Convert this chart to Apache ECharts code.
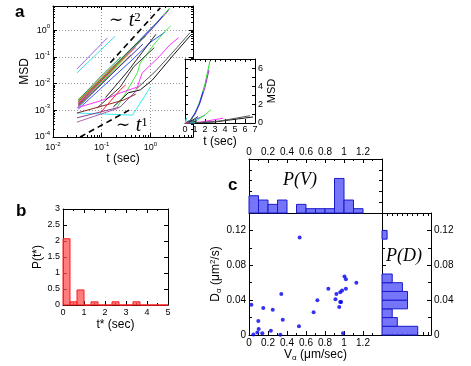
<!DOCTYPE html>
<html>
<head>
<meta charset="utf-8">
<script src="https://cdn.jsdelivr.net/npm/echarts@6/dist/echarts.min.js"></script>
<style>
  html, body { margin: 0; padding: 0; background: #fff; }
  #chart { width: 471px; height: 366px; }
</style>
</head>
<body>
<div id="chart"></div>
<script>
// ---- panel a: MSD(t) of single trajectories, [t (sec), MSD] ----
const msdTracks = [
  [[0.033, 1.4e-3], [0.1, 0.011], [0.3, 0.09], [0.6, 0.38], [1.0, 1.05], [1.5, 2.4], [2.0, 4.3], [2.5, 6.8]],
  [[0.033, 1.6e-3], [0.1, 0.013], [0.3, 0.1], [0.6, 0.36], [1.0, 0.95], [1.5, 2.2], [2.0, 3.9], [2.4, 5.8]],
  [[0.033, 1.8e-3], [0.1, 0.014], [0.3, 0.11], [0.6, 0.42], [1.0, 1.1], [1.4, 2.0], [1.8, 3.4]],
  [[0.033, 1.1e-3], [0.1, 7e-3], [0.4, 0.07], [1.0, 0.35], [2.0, 0.85]],
  [[0.033, 2.6e-3], [0.15, 0.03], [0.35, 0.117]],
  [[0.033, 2.3e-3], [0.12, 0.025], [0.45, 0.2]],
  [[0.033, 2.0e-3], [0.1, 0.016], [0.5, 0.3], [0.8, 0.6]],
  [[0.033, 2.2e-3], [0.12, 0.022], [0.6, 0.35]],
  [[0.033, 1.9e-3], [0.15, 0.03], [0.5, 0.22]],
  [[0.033, 2.4e-3], [0.1, 0.02], [0.25, 0.1]],
  [[0.033, 1.5e-3], [0.1, 0.01], [0.4, 0.12]],
  [[0.033, 1.7e-3], [0.2, 0.045]],
  [[0.033, 1.3e-3], [0.15, 0.02], [0.7, 0.3]],
  [[0.033, 2.1e-3], [0.09, 0.012], [0.3, 0.1]],
  [[0.12, 3e-3], [0.35, 0.03], [1.3, 0.7]],
  [[0.21, 1.33e-3], [0.28, 3.2e-3], [0.54, 0.025], [0.62, 0.059], [1.2, 0.3], [2.0, 0.9], [2.6, 1.45]],
  [[0.031, 1.23e-3], [0.105, 2.4e-3], [0.24, 4.5e-3], [0.54, 7.4e-3], [0.68, 0.025], [1.5, 0.1], [2.5, 0.28], [3.8, 0.52]],
  [[0.173, 1.33e-3], [0.35, 4.5e-3], [0.62, 5.8e-3], [1.1, 0.0136], [3.0, 0.12], [6.8, 0.66]],
  [[0.081, 1.23e-3], [0.24, 7.4e-3], [0.45, 0.042], [1.2, 0.22]],
  [[0.5, 6e-3], [1.3, 0.03], [3.5, 0.22], [6.5, 0.8]],
  [[0.031, 7.9e-4], [0.43, 6.6e-4], [0.45, 5.6e-4], [1.0, 7.4e-3]],
  [[0.031, 7.9e-4], [0.28, 2.4e-3], [0.5, 4e-3]],
  [[0.031, 5.2e-4], [0.24, 1.33e-3], [0.33, 2.4e-3], [0.54, 5.8e-3]],
  [[0.031, 3.6e-4], [0.22, 1.2e-3]],
  [[0.093, 7.9e-4], [0.24, 5.8e-3], [0.31, 8.9e-3]],
  [[0.031, 0.035], [0.13, 0.51]],
  [[0.031, 0.025], [0.19, 0.6]]
];
const trackColors = [
  '#22dd22', '#9933cc', '#2233ee', '#3355ff', '#eedd00', '#ff9900', '#117711', '#888888',
  '#ff66cc', '#229988', '#996633', '#dd3333', '#333399', '#888800', '#222222', '#44ee44',
  '#ff33ff', '#111111', '#333333', '#555555', '#33eeee', '#882222', '#884499', '#aa66aa',
  '#ff2222', '#9966ee', '#44dddd'
];
const guideT2 = [[0.15, 0.06], [1.6, 6.8]];
const guideT1 = [[0.036, 1e-4], [0.38, 1.05e-3]];

// ---- panel b: distribution of t* ----
const tStarBinWidth = 1 / 3;
const tStarDensity = [2.07, 0.1, 0.47, 0, 0.1, 0, 0, 0.1, 0, 0, 0.1, 0, 0, 0, 0];

// ---- panel c: V_alpha vs D_alpha ----
const vAlpha = [0.025, 0.046, 0.088, 0.098, 0.102, 0.14, 0.15, 0.23, 0.25, 0.33, 0.34, 0.355, 0.533, 0.526, 0.68,
  0.72, 0.835, 0.91, 0.92, 0.96, 0.98, 0.95, 0.96, 0.97, 1.005, 1.02, 1.02, 0.99, 1.13];
const dAlpha = [0.0346, 0.0005, 0.003, 0.016, 0.007, 0.002, 0.031, 0.005, 0.029, 0.0003, 0.047, 0.0175, 0.112, 0.010, 0.026,
  0.040, 0.053, 0.041, 0.047, 0.049, 0.051, 0.032, 0.038, 0.038, 0.067, 0.064, 0.053, 0.002, 0.0599];
const vBinWidth = 0.1;
const vCounts = [4, 3, 2, 3, 0, 2, 1, 1, 1, 8, 3, 1, 0, 0];
const dBinWidth = 0.01;
const dCounts = [7, 3, 2, 5, 5, 4, 2, 0, 0, 0, 0, 1, 0, 0];

// minor ticks of the log axes (2..9 of each decade)
function logMinors(fromExp, toExp, max) {
  const out = [];
  for (let e = fromExp; e <= toExp; e++) {
    for (let k = 2; k <= 9; k++) {
      const v = k * Math.pow(10, e);
      if (v < max) out.push(v);
    }
  }
  return out;
}

const FONT = 'Liberation Sans';
const black = { color: '#000', width: 1 };

function frameAxis(gridIndex, position, opts) {
  return Object.assign({
    gridIndex: gridIndex,
    position: position,
    axisLine: { show: true, onZero: false, lineStyle: black },
    axisTick: { show: true, inside: true, length: 4, lineStyle: black },
    axisLabel: { show: false },
    splitLine: { show: false },
    minorTick: { show: false }
  }, opts);
}

function label(extra) {
  return Object.assign({ show: true, color: '#000', fontFamily: FONT, fontSize: 9, margin: 3 }, extra);
}

function axisName(extra) {
  return Object.assign({ color: '#000', fontFamily: FONT, fontSize: 12 }, extra);
}

const powRich = {
  b: { fontSize: 9, fontFamily: FONT, color: '#000', lineHeight: 13 },
  s: { fontSize: 6, fontFamily: FONT, color: '#000', lineHeight: 7, verticalAlign: 'top' }
};
const powFormatter = v => '{b|10}{s|' + Math.round(Math.log10(v)) + '}';

const logX = { type: 'log', logBase: 10, min: 0.01, max: 7.5 };
const logY = { type: 'log', logBase: 10, min: 1e-4, max: 8 };
const xMinors = logMinors(-2, 0, 7.5);
const yMinors = logMinors(-4, 0, 8);
const minorTick = vals => ({ show: true, inside: true, length: 2, lineStyle: black, customValues: vals });
const dotted = { show: true, lineStyle: { color: '#999', width: 1, type: [1, 2] } };

const xAxis = [
  // 0-3 panel a
  frameAxis(0, 'bottom', Object.assign({}, logX, {
    axisLabel: label({ formatter: powFormatter, rich: powRich, showMaxLabel: false, margin: 4 }),
    splitLine: dotted,
    name: 't (sec)', nameLocation: 'middle', nameGap: 16, nameTextStyle: axisName({})
  })),
  frameAxis(0, 'bottom', Object.assign({}, logX, { axisLine: { show: false }, axisTick: minorTick(xMinors) })),
  frameAxis(0, 'top', Object.assign({}, logX)),
  frameAxis(0, 'top', Object.assign({}, logX, { axisLine: { show: false }, axisTick: minorTick(xMinors) })),
  // 4-5 inset
  frameAxis(1, 'bottom', {
    type: 'value', min: 0, max: 7, interval: 1, z: 6,
    axisLabel: label({ margin: 2 }),
    name: 't (sec)', nameLocation: 'middle', nameGap: 13, nameTextStyle: axisName({})
  }),
  frameAxis(1, 'top', {
    type: 'value', min: 0, max: 7, interval: 1, z: 6,
    axisTick: { show: true, inside: true, length: 3, lineStyle: black },
    minorTick: { show: true, splitNumber: 2, length: 2, lineStyle: black }
  }),
  // 6-7 panel b
  frameAxis(2, 'bottom', {
    type: 'value', min: 0, max: 5, interval: 1,
    axisLabel: label({ margin: 3 }),
    minorTick: { show: true, splitNumber: 2, length: 2, lineStyle: black },
    name: 't* (sec)', nameLocation: 'middle', nameGap: 14, nameTextStyle: axisName({})
  }),
  frameAxis(2, 'top', {
    type: 'value', min: 0, max: 5, interval: 1,
    minorTick: { show: true, splitNumber: 2, length: 2, lineStyle: black }
  }),
  // 8-9 top histogram P(V)
  frameAxis(3, 'top', {
    type: 'value', min: 0, max: 1.4, interval: 0.2,
    axisLabel: label({ fontSize: 10, margin: 2, showMaxLabel: false }),
    minorTick: { show: true, splitNumber: 2, length: 2, lineStyle: black }
  }),
  frameAxis(3, 'bottom', { type: 'value', min: 0, max: 1.4, interval: 0.2, axisTick: { show: false } }),
  // 10-11 scatter
  frameAxis(4, 'bottom', {
    type: 'value', min: 0, max: 1.4, interval: 0.2,
    axisLabel: label({ fontSize: 10, margin: 3, showMaxLabel: false }),
    minorTick: { show: true, splitNumber: 2, length: 2, lineStyle: black },
    name: '{n|V}{sub|α}{n| (μm/sec)}', nameLocation: 'middle', nameGap: 13,
    nameTextStyle: axisName({
      rich: {
        n: { fontSize: 12, fontFamily: FONT, color: '#000', lineHeight: 14 },
        sub: { fontSize: 8, fontFamily: FONT, color: '#000', lineHeight: 8, verticalAlign: 'bottom' }
      }
    })
  }),
  frameAxis(4, 'top', { type: 'value', min: 0, max: 1.4, interval: 0.2, axisLine: { show: false }, axisTick: { show: false } }),
  // 12-13 right histogram P(D)
  frameAxis(5, 'bottom', { type: 'value', min: 0, max: 9.6, interval: 1, axisTick: { show: true, inside: true, length: 3, lineStyle: black } }),
  frameAxis(5, 'top', { type: 'value', min: 0, max: 9.6, interval: 1, axisTick: { show: true, inside: true, length: 3, lineStyle: black } })
];

const yAxis = [
  // 0-3 panel a
  frameAxis(0, 'left', Object.assign({}, logY, {
    axisLabel: label({ formatter: powFormatter, rich: powRich, showMaxLabel: false, margin: 3 }),
    splitLine: dotted,
    name: 'MSD', nameLocation: 'middle', nameGap: 21, nameTextStyle: axisName({})
  })),
  frameAxis(0, 'left', Object.assign({}, logY, { axisLine: { show: false }, axisTick: minorTick(yMinors) })),
  frameAxis(0, 'right', Object.assign({}, logY)),
  frameAxis(0, 'right', Object.assign({}, logY, { axisLine: { show: false }, axisTick: minorTick(yMinors) })),
  // 4-5 inset
  frameAxis(1, 'right', {
    type: 'value', min: 0, max: 7, interval: 1, z: 6,
    axisTick: { show: true, inside: true, length: 3, lineStyle: black },
    axisLabel: label({ margin: 3, formatter: v => (v % 2 === 0 ? String(v) : '') }),
    name: 'MSD', nameLocation: 'middle', nameGap: 11, nameTextStyle: axisName({ fontSize: 11 })
  }),
  frameAxis(1, 'left', {
    type: 'value', min: 0, max: 7, interval: 1, z: 6,
    axisTick: { show: true, inside: true, length: 3, lineStyle: black }
  }),
  // 6-7 panel b
  frameAxis(2, 'left', {
    type: 'value', min: 0, max: 3, interval: 0.5,
    axisLabel: label({ margin: 3 }),
    name: 'P(t*)', nameLocation: 'middle', nameGap: 19, nameTextStyle: axisName({})
  }),
  frameAxis(2, 'right', { type: 'value', min: 0, max: 3, interval: 0.5 }),
  // 8-9 top histogram
  frameAxis(3, 'left', { type: 'value', min: 0, max: 12.5, interval: 2.5, axisTick: { show: true, inside: true, length: 3, lineStyle: black } }),
  frameAxis(3, 'right', { type: 'value', min: 0, max: 12.5, interval: 2.5, axisTick: { show: true, inside: true, length: 3, lineStyle: black } }),
  // 10-11 scatter
  frameAxis(4, 'left', {
    type: 'value', min: 0, max: 0.14, interval: 0.04,
    axisLabel: label({ fontSize: 10, margin: 3, showMaxLabel: false }),
    minorTick: { show: true, splitNumber: 2, length: 3, lineStyle: black },
    name: '{n|D}{sub|α}{n| (μm}{sup|2}{n|/s)}', nameLocation: 'middle', nameGap: 23,
    nameTextStyle: axisName({
      rich: {
        n: { fontSize: 12, fontFamily: FONT, color: '#000', lineHeight: 14 },
        sub: { fontSize: 8, fontFamily: FONT, color: '#000', lineHeight: 8, verticalAlign: 'bottom' },
        sup: { fontSize: 8, fontFamily: FONT, color: '#000', lineHeight: 8, verticalAlign: 'top' }
      }
    })
  }),
  frameAxis(4, 'right', { type: 'value', min: 0, max: 0.14, interval: 0.04, axisTick: { show: false } }),
  // 12-13 right histogram
  frameAxis(5, 'right', {
    type: 'value', min: 0, max: 0.14, interval: 0.04,
    axisLabel: label({ fontSize: 10, margin: 3, showMaxLabel: false }),
    minorTick: { show: true, splitNumber: 2, length: 3, lineStyle: black }
  }),
  frameAxis(5, 'left', {
    type: 'value', min: 0, max: 0.14, interval: 0.04,
    minorTick: { show: true, splitNumber: 2, length: 3, lineStyle: black }
  })
];

// histogram rectangles drawn through the axes
function verticalBins(fill, stroke) {
  return function (params, api) {
    const p0 = api.coord([api.value(0), 0]);
    const p1 = api.coord([api.value(1), api.value(2)]);
    return {
      type: 'rect',
      shape: { x: p0[0], y: p1[1], width: p1[0] - p0[0], height: p0[1] - p1[1] },
      style: { fill: fill, stroke: stroke, lineWidth: 1 }
    };
  };
}
function horizontalBins(fill, stroke) {
  return function (params, api) {
    const p0 = api.coord([0, api.value(0)]);
    const p1 = api.coord([api.value(2), api.value(1)]);
    return {
      type: 'rect',
      shape: { x: p0[0], y: p1[1], width: p1[0] - p0[0], height: p0[1] - p1[1] },
      style: { fill: fill, stroke: stroke, lineWidth: 1 }
    };
  };
}

const series = [];
msdTracks.forEach((pts, i) => {
  series.push({
    type: 'line', xAxisIndex: 0, yAxisIndex: 0, data: pts, showSymbol: false, silent: true, z: 2,
    lineStyle: { color: trackColors[i], width: 1 }
  });
});
[guideT2, guideT1].forEach(pts => {
  series.push({
    type: 'line', xAxisIndex: 0, yAxisIndex: 0, data: pts, showSymbol: false, silent: true, z: 3,
    lineStyle: { color: '#000', width: 1.6, type: [6, 4] }
  });
});
msdTracks.forEach((pts, i) => {
  series.push({
    type: 'line', xAxisIndex: 4, yAxisIndex: 4, data: pts, showSymbol: false, silent: true, z: 6, clip: true,
    lineStyle: { color: trackColors[i], width: 1 }
  });
});
series.push({
  type: 'custom', xAxisIndex: 6, yAxisIndex: 6, z: 3,
  data: tStarDensity.map((h, i) => [i * tStarBinWidth, (i + 1) * tStarBinWidth, h]),
  renderItem: verticalBins('rgba(255,80,80,0.75)', '#ff1a1a')
});
series.push({
  type: 'custom', xAxisIndex: 8, yAxisIndex: 8, z: 3,
  data: vCounts.map((c, i) => [i * vBinWidth, (i + 1) * vBinWidth, c]).filter(d => d[2] > 0),
  renderItem: verticalBins('rgba(110,110,250,0.95)', '#1a1acc')
});
series.push({
  type: 'custom', xAxisIndex: 12, yAxisIndex: 12, z: 3,
  data: dCounts.map((c, i) => [i * dBinWidth, (i + 1) * dBinWidth, c]).filter(d => d[2] > 0),
  renderItem: horizontalBins('rgba(110,110,250,0.95)', '#1a1acc')
});
series.push({
  type: 'scatter', xAxisIndex: 10, yAxisIndex: 10, z: 4,
  data: vAlpha.map((v, i) => [v, dAlpha[i]]),
  symbolSize: 4, itemStyle: { color: '#0000ee' }
});

const serif = 'Liberation Serif';
const powerRich = {
  m: { fontFamily: 'DejaVu Serif', fontSize: 17, fill: '#000', lineHeight: 20 },
  t: { fontFamily: serif, fontStyle: 'italic', fontSize: 20, fill: '#000', lineHeight: 20 },
  s: { fontFamily: serif, fontSize: 13, fill: '#000', lineHeight: 12, verticalAlign: 'top' }
};
const graphic = [
  { type: 'text', x: 15, y: 12, style: { text: 'a', font: 'bold 17px "Liberation Sans"', fill: '#000', textVerticalAlign: 'middle' } },
  { type: 'text', x: 16, y: 211, style: { text: 'b', font: 'bold 17px "Liberation Sans"', fill: '#000', textVerticalAlign: 'middle' } },
  { type: 'text', x: 228, y: 185, style: { text: 'c', font: 'bold 17px "Liberation Sans"', fill: '#000', textVerticalAlign: 'middle' } },
  { type: 'text', x: 109, y: 21, z: 10, style: { text: '{m|∼ }{t|t}{s|2}', textVerticalAlign: 'middle', rich: powerRich } },
  { type: 'text', x: 116, y: 126, z: 10, style: { text: '{m|∼ }{t|t}{s|1}', textVerticalAlign: 'middle', rich: powerRich } },
  { type: 'text', x: 283, y: 180, z: 10, style: { text: 'P(V)', font: 'italic 18px "Liberation Serif"', fill: '#000', textVerticalAlign: 'middle' } },
  { type: 'text', x: 386, y: 256, z: 10, style: { text: 'P(D)', font: 'italic 18px "Liberation Serif"', fill: '#000', textVerticalAlign: 'middle' } }
];

const chart = echarts.init(document.getElementById('chart'));
chart.setOption({
  animation: false,
  backgroundColor: '#fff',
  textStyle: { fontFamily: FONT },
  grid: [
    { left: 53, top: 6, width: 140, height: 131 },
    { left: 185, top: 59, width: 70, height: 64, show: true, backgroundColor: '#fff', borderWidth: 0, z: 5 },
    { left: 63, top: 209, width: 105, height: 96 },
    { left: 249, top: 159, width: 133, height: 54 },
    { left: 249, top: 213, width: 133, height: 122 },
    { left: 382, top: 213, width: 49, height: 122 }
  ],
  xAxis: xAxis,
  yAxis: yAxis,
  series: series,
  graphic: graphic
});
</script>
</body>
</html>
